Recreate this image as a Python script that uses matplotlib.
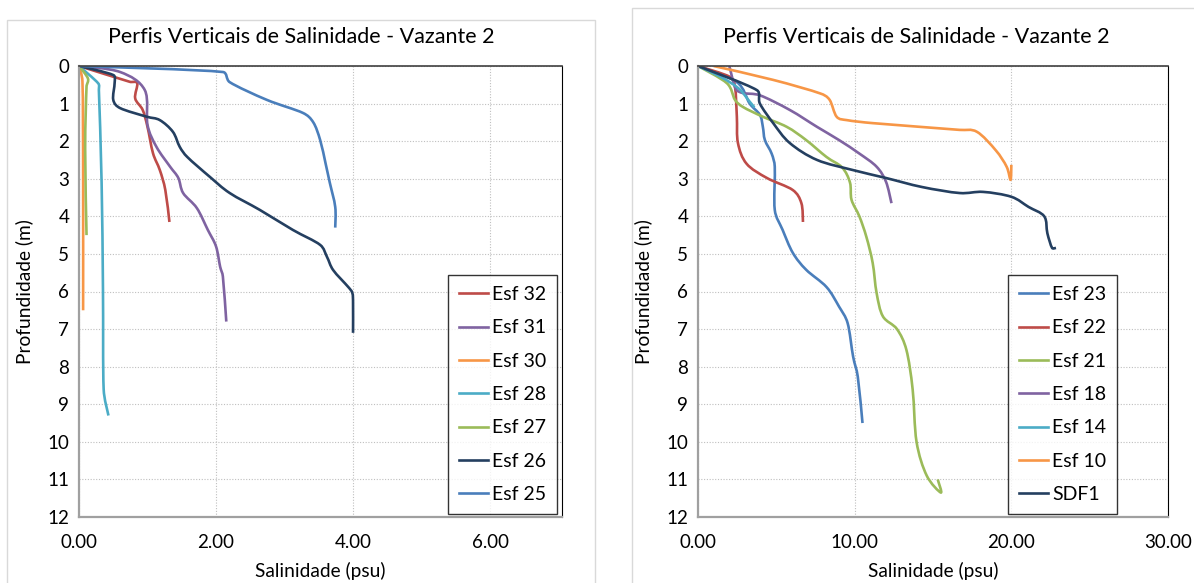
import math
import matplotlib
matplotlib.use("Agg")
import matplotlib.pyplot as plt
from matplotlib.patches import Rectangle, PathPatch
from matplotlib.path import Path
from matplotlib.lines import Line2D

plt.rcParams["font.family"] = ["Lato", "DejaVu Sans"]

TITLE = "Perfis Verticais de Salinidade - Vazante 2"

# ---- left panel: (salinity psu, depth m) ----
esf32_s = [0.0, 0.74, 0.85, 0.82, 0.93, 1.00, 1.08, 1.18, 1.26, 1.32]
esf32_d = [0.0, 0.42, 0.46, 0.86, 1.17, 1.62, 2.32, 2.77, 3.30, 4.15]
esf31_s = [0.0, 0.60, 0.96, 1.00, 1.13, 1.33, 1.45, 1.52, 1.72, 1.88, 2.00, 2.06, 2.10, 2.15]
esf31_d = [0.0, 0.16, 0.64, 1.57, 2.15, 2.68, 2.98, 3.38, 3.78, 4.36, 4.80, 5.34, 5.60, 6.80]
esf30_s = [0.0, 0.05, 0.06, 0.06]
esf30_d = [0.0, 0.40, 3.00, 6.50]
esf28_s = [0.0, 0.28, 0.29, 0.33, 0.35, 0.36, 0.43]
esf28_d = [0.0, 0.46, 0.64, 3.10, 5.96, 8.60, 9.30]
esf27_s = [0.0, 0.13, 0.11, 0.09, 0.11]
esf27_d = [0.0, 0.33, 0.55, 2.20, 4.50]
esf26_s = [0.0, 0.50, 0.52, 0.50, 0.60, 0.99, 1.18, 1.37, 1.47, 1.58, 1.91, 2.20, 2.64,
           3.12, 3.52, 3.62, 3.71, 3.93, 3.99, 4.00, 4.00]
esf26_d = [0.0, 0.24, 0.45, 0.90, 1.12, 1.35, 1.44, 1.75, 2.15, 2.42, 2.95, 3.38, 3.83,
           4.36, 4.76, 5.08, 5.43, 5.88, 6.04, 6.30, 7.10]
esf25_s = [0.0, 2.10, 2.20, 2.74, 3.27, 3.42, 3.52, 3.60, 3.66, 3.74, 3.74]
esf25_d = [0.0, 0.16, 0.43, 0.90, 1.25, 1.50, 1.97, 2.60, 3.10, 3.75, 4.30]

# ---- right panel ----
esf23_s = [0.0, 2.48, 3.30, 3.95, 4.14, 4.27, 4.70, 4.90, 4.90, 5.40, 6.05, 6.90, 8.20,
           9.00, 9.55, 9.90, 10.20, 10.50]
esf23_d = [0.0, 0.43, 1.00, 1.30, 1.62, 1.97, 2.33, 2.68, 3.83, 4.36, 4.97, 5.42, 5.88,
           6.40, 6.84, 7.73, 8.27, 9.50]
esf22_s = [0.0, 2.04, 2.36, 2.48, 2.55, 3.10, 4.40, 6.05, 6.60, 6.70]
esf22_d = [0.0, 0.29, 0.55, 1.35, 2.05, 2.60, 2.98, 3.30, 3.65, 4.15]
esf21_s = [0.0, 1.85, 2.36, 2.87, 4.14, 5.67, 6.90, 8.20, 9.20, 9.70, 9.80, 10.30, 10.75,
           11.15, 11.40, 11.80, 12.70, 13.30, 13.70, 13.95, 14.60, 15.50, 15.30]
esf21_d = [0.0, 0.46, 0.90, 1.09, 1.35, 1.62, 1.97, 2.42, 2.70, 3.10, 3.56, 4.00, 4.55,
           5.24, 6.04, 6.66, 7.00, 7.55, 8.60, 10.00, 10.90, 11.35, 11.00]
esf18_s = [2.00, 2.40, 2.87, 3.95, 5.86, 7.60, 9.00, 10.30, 11.40, 12.00, 12.35]
esf18_d = [0.00, 0.60, 0.72, 0.78, 1.17, 1.62, 1.97, 2.33, 2.68, 3.08, 3.65]
esf14_s = [0.0, 1.50, 2.60, 3.30, 3.60]
esf14_d = [0.0, 0.30, 0.60, 0.95, 1.10]
esf10_s = [1.00, 4.80, 7.80, 8.40, 8.85, 9.50, 11.15, 16.70, 17.80, 19.00, 19.70, 19.95, 20.00]
esf10_d = [0.00, 0.37, 0.73, 0.90, 1.35, 1.44, 1.52, 1.70, 1.75, 2.24, 2.68, 3.03, 2.63]
sdf1_s = [0.0, 3.75, 3.95, 4.80, 5.86, 7.60, 9.90, 12.00, 14.30, 16.70, 18.20, 20.00,
          21.10, 22.10, 22.30, 22.60, 22.85]
sdf1_d = [0.0, 0.64, 1.00, 1.52, 2.05, 2.50, 2.77, 2.98, 3.22, 3.38, 3.35, 3.48,
          3.75, 4.00, 4.45, 4.84, 4.84]

BLUE = "#4a7ebb"
RED = "#be4b48"
GREEN = "#9bbb59"
PURPLE = "#7f63a1"
AQUA = "#4bacc6"
ORANGE = "#f79646"
NAVY = "#243f60"

left_series = [
    ("Esf 32", esf32_s, esf32_d, RED),
    ("Esf 31", esf31_s, esf31_d, PURPLE),
    ("Esf 30", esf30_s, esf30_d, ORANGE),
    ("Esf 28", esf28_s, esf28_d, AQUA),
    ("Esf 27", esf27_s, esf27_d, GREEN),
    ("Esf 26", esf26_s, esf26_d, NAVY),
    ("Esf 25", esf25_s, esf25_d, BLUE),
]
right_series = [
    ("Esf 23", esf23_s, esf23_d, BLUE),
    ("Esf 22", esf22_s, esf22_d, RED),
    ("Esf 21", esf21_s, esf21_d, GREEN),
    ("Esf 18", esf18_s, esf18_d, PURPLE),
    ("Esf 14", esf14_s, esf14_d, AQUA),
    ("Esf 10", esf10_s, esf10_d, ORANGE),
    ("SDF1", sdf1_s, sdf1_d, NAVY),
]

LW = 1.9


def smooth_path(xs, ys, sx, sy):
    # Excel-style "smoothed line": cubic Bezier through every point.
    # Handles are clamped (in pixel space) so short segments don't loop.
    pts = list(zip(xs, ys))
    n = len(pts)

    def seglen(a, b):
        return math.hypot((b[0] - a[0]) * sx, (b[1] - a[1]) * sy)

    def handle(p, q, r, fwd_len):
        tx, ty = (r[0] - q[0]) / 6, (r[1] - q[1]) / 6
        L = math.hypot(tx * sx, ty * sy)
        lim = 0.4 * fwd_len
        if L > lim and L > 0:
            tx, ty = tx * lim / L, ty * lim / L
        return tx, ty

    verts = [pts[0]]
    codes = [Path.MOVETO]
    for i in range(n - 1):
        p0 = pts[i - 1] if i > 0 else pts[i]
        p1 = pts[i]
        p2 = pts[i + 1]
        p3 = pts[i + 2] if i + 2 < n else pts[i + 1]
        seg = seglen(p1, p2)
        t1 = handle(None, p0, p2, seg)
        t2 = handle(None, p1, p3, seg)
        c1 = (p1[0] + t1[0], p1[1] + t1[1])
        c2 = (p2[0] - t2[0], p2[1] - t2[1])
        verts += [c1, c2, p2]
        codes += [Path.CURVE4] * 3
    return Path(verts, codes)


W, H = 1194, 583
fig = plt.figure(figsize=(W / 100, H / 100), dpi=100)

# chart-area frames
fig.patches.append(Rectangle((7 / W, -0.01), 588 / W, 1 - 20 / H + 0.01,
                             transform=fig.transFigure, fill=False,
                             edgecolor="#d9d9d9", linewidth=1.0))
fig.patches.append(Rectangle((632 / W, -0.01), 1.0, 1 - 8 / H + 0.01,
                             transform=fig.transFigure, fill=False,
                             edgecolor="#d9d9d9", linewidth=1.0))


def make_panel(left_px, width_px, series, xmax, xticks, legend_x, title_x):
    ax = fig.add_axes([left_px / W, 1 - 517 / H, width_px / W, 451 / H])
    sx, sy = width_px / xmax, 451 / 12
    handles = []
    for label, s, d, c in series:
        ax.add_patch(PathPatch(smooth_path(s, d, sx, sy), facecolor="none",
                               edgecolor=c, linewidth=LW, capstyle="butt",
                               joinstyle="round"))
        handles.append(Line2D([], [], color=c, linewidth=LW, label=label))
    ax.set_xlim(0, xmax)
    ax.set_ylim(12, 0)
    ax.set_xticks(xticks)
    ax.set_xticklabels([f"{v:.2f}" for v in xticks])
    ax.set_yticks(range(0, 13))
    ax.tick_params(length=0, labelsize=13.5)
    ax.tick_params(axis="x", pad=12)
    ax.tick_params(axis="y", pad=7)
    ax.grid(True, color="#bfbfbf", linestyle=(0, (1, 1.5)), linewidth=0.8)
    ax.set_axisbelow(True)
    for side in ("left", "bottom"):
        ax.spines[side].set_color("#a0a0a0")
        ax.spines[side].set_linewidth(1.6)
    ax.spines["top"].set_color("#404040")
    ax.spines["top"].set_linewidth(1.2)
    ax.spines["right"].set_color("black")
    ax.spines["right"].set_linewidth(0.8)
    fig.text(title_x / W, 1 - 37 / H, TITLE, fontsize=15.5, ha="center", va="center")
    ax.set_xlabel("Salinidade (psu)", fontsize=13.8, labelpad=8)
    ax.set_ylabel("Profundidade (m)", fontsize=13.8, labelpad=10)
    leg = ax.legend(handles=handles, loc="lower right",
                    bbox_to_anchor=(legend_x, 0.007),
                    fontsize=14, frameon=True, fancybox=False,
                    edgecolor="black", handlelength=1.5, handletextpad=0.2,
                    labelspacing=0.84, borderpad=0.55, borderaxespad=0)
    leg.get_frame().set_linewidth(1.0)
    return ax


make_panel(79, 483, left_series, 7.05, [0, 2, 4, 6], 0.99, 301)
make_panel(698, 470, right_series, 30, [0, 10, 20, 30], 0.891, 916)

fig.savefig("out.png", dpi=100)
